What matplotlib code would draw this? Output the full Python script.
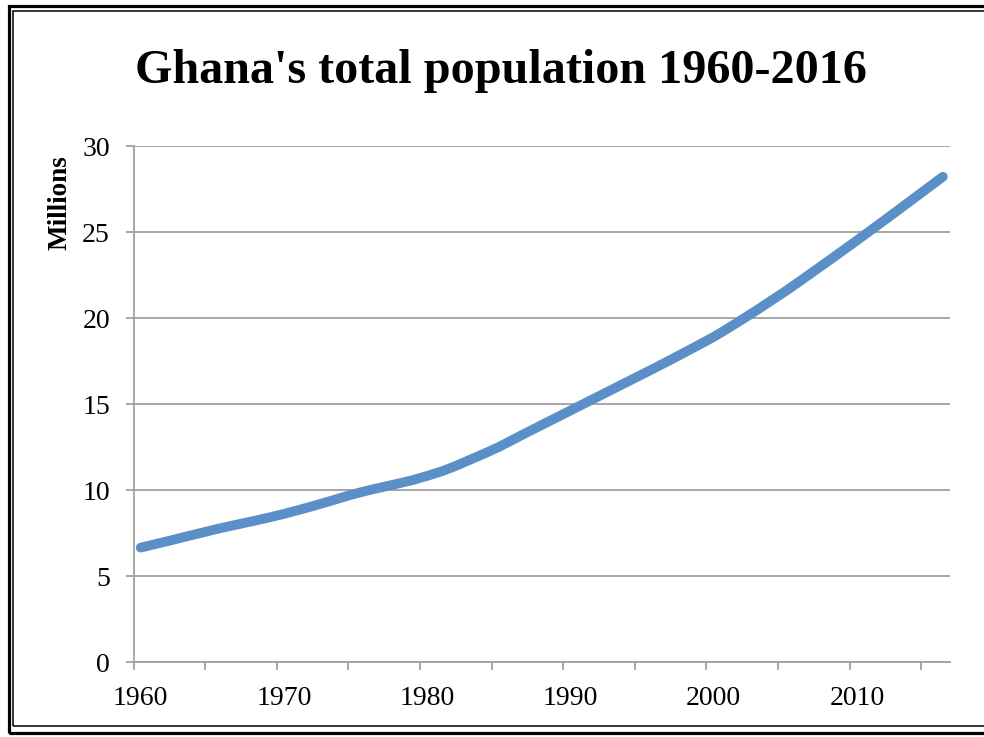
import numpy as np
import matplotlib
matplotlib.use('Agg')
from matplotlib import pyplot as plt
from matplotlib.patches import Rectangle

# Ghana total population, millions
years = list(range(1960, 2017))
pop = [6.65, 6.85, 7.05, 7.26, 7.46, 7.67, 7.86, 8.04, 8.22, 8.41,
       8.61, 8.83, 9.06, 9.30, 9.55, 9.79, 10.00, 10.19, 10.38, 10.58,
       10.82, 11.08, 11.40, 11.76, 12.12, 12.50, 12.93, 13.36, 13.78, 14.20,
       14.62, 15.04, 15.46, 15.88, 16.30, 16.72, 17.14, 17.57, 18.01, 18.45,
       18.90, 19.40, 19.92, 20.45, 21.00, 21.55, 22.13, 22.72, 23.31, 23.91,
       24.51, 25.12, 25.73, 26.35, 26.97, 27.59, 28.21]
ytick_vals = [0, 5, 10, 15, 20, 25, 30]
xtick_labels = [1960, 1970, 1980, 1990, 2000, 2010]

title = "Ghana's total population 1960-2016"
ylab = 'Millions'

W, H = 984, 737
fig = plt.figure(figsize=(W/100, H/100), dpi=100)
serif = ['Liberation Serif', 'DejaVu Serif']
grey = '#a0a0a0'

# double frame round the chart
fig.patches.append(Rectangle((8.5/W, 1-733/H), (995-8.5)/W, (733-6)/H,
                             transform=fig.transFigure, fill=False, ec='black', lw=2.3))
fig.patches.append(Rectangle((12.5/W, 1-725.5/H), (995-12.5)/W, (725.5-11)/H,
                             transform=fig.transFigure, fill=False, ec='black', lw=1.1))

ax = fig.add_axes([133.5/W, 1-662/H, (950-133.5)/W, (662-146)/H])
ax.plot(years, pop, color='#5b8fc8', lw=7, solid_capstyle='round', solid_joinstyle='round')

ax.set_xlim(1959.5, 2016.5)
ax.set_ylim(0, 30)
ax.set_yticks(ytick_vals)
ax.set_yticklabels([str(v) for v in ytick_vals], fontfamily=serif, fontsize=20)
ax.set_xticks(xtick_labels)
ax.set_xticklabels([str(v) for v in xtick_labels], fontfamily=serif, fontsize=20)
ax.set_xticks(np.arange(1959.5, 2017, 5), minor=True)
ax.tick_params(axis='x', which='major', length=0, pad=17)
ax.tick_params(axis='x', which='minor', length=6, width=1.3, color=grey, direction='out')
ax.tick_params(axis='y', length=6, width=1.3, color=grey, pad=11)
ax.grid(axis='y', color=grey, lw=1.3)
ax.set_axisbelow(True)
for s in ['top', 'right']:
    ax.spines[s].set_visible(False)
for s in ['left', 'bottom']:
    ax.spines[s].set_color(grey)
    ax.spines[s].set_linewidth(1.3)

fig.text(60/W, 1-202.5/H, ylab, rotation=90, ha='center', va='center',
         fontfamily=serif, fontweight='bold', fontsize=19.5)
fig.text(501/W, 1-83/H, title, ha='center', va='baseline',
         fontfamily=serif, fontweight='bold', fontsize=34.7)

fig.savefig('out.png', dpi=100)
